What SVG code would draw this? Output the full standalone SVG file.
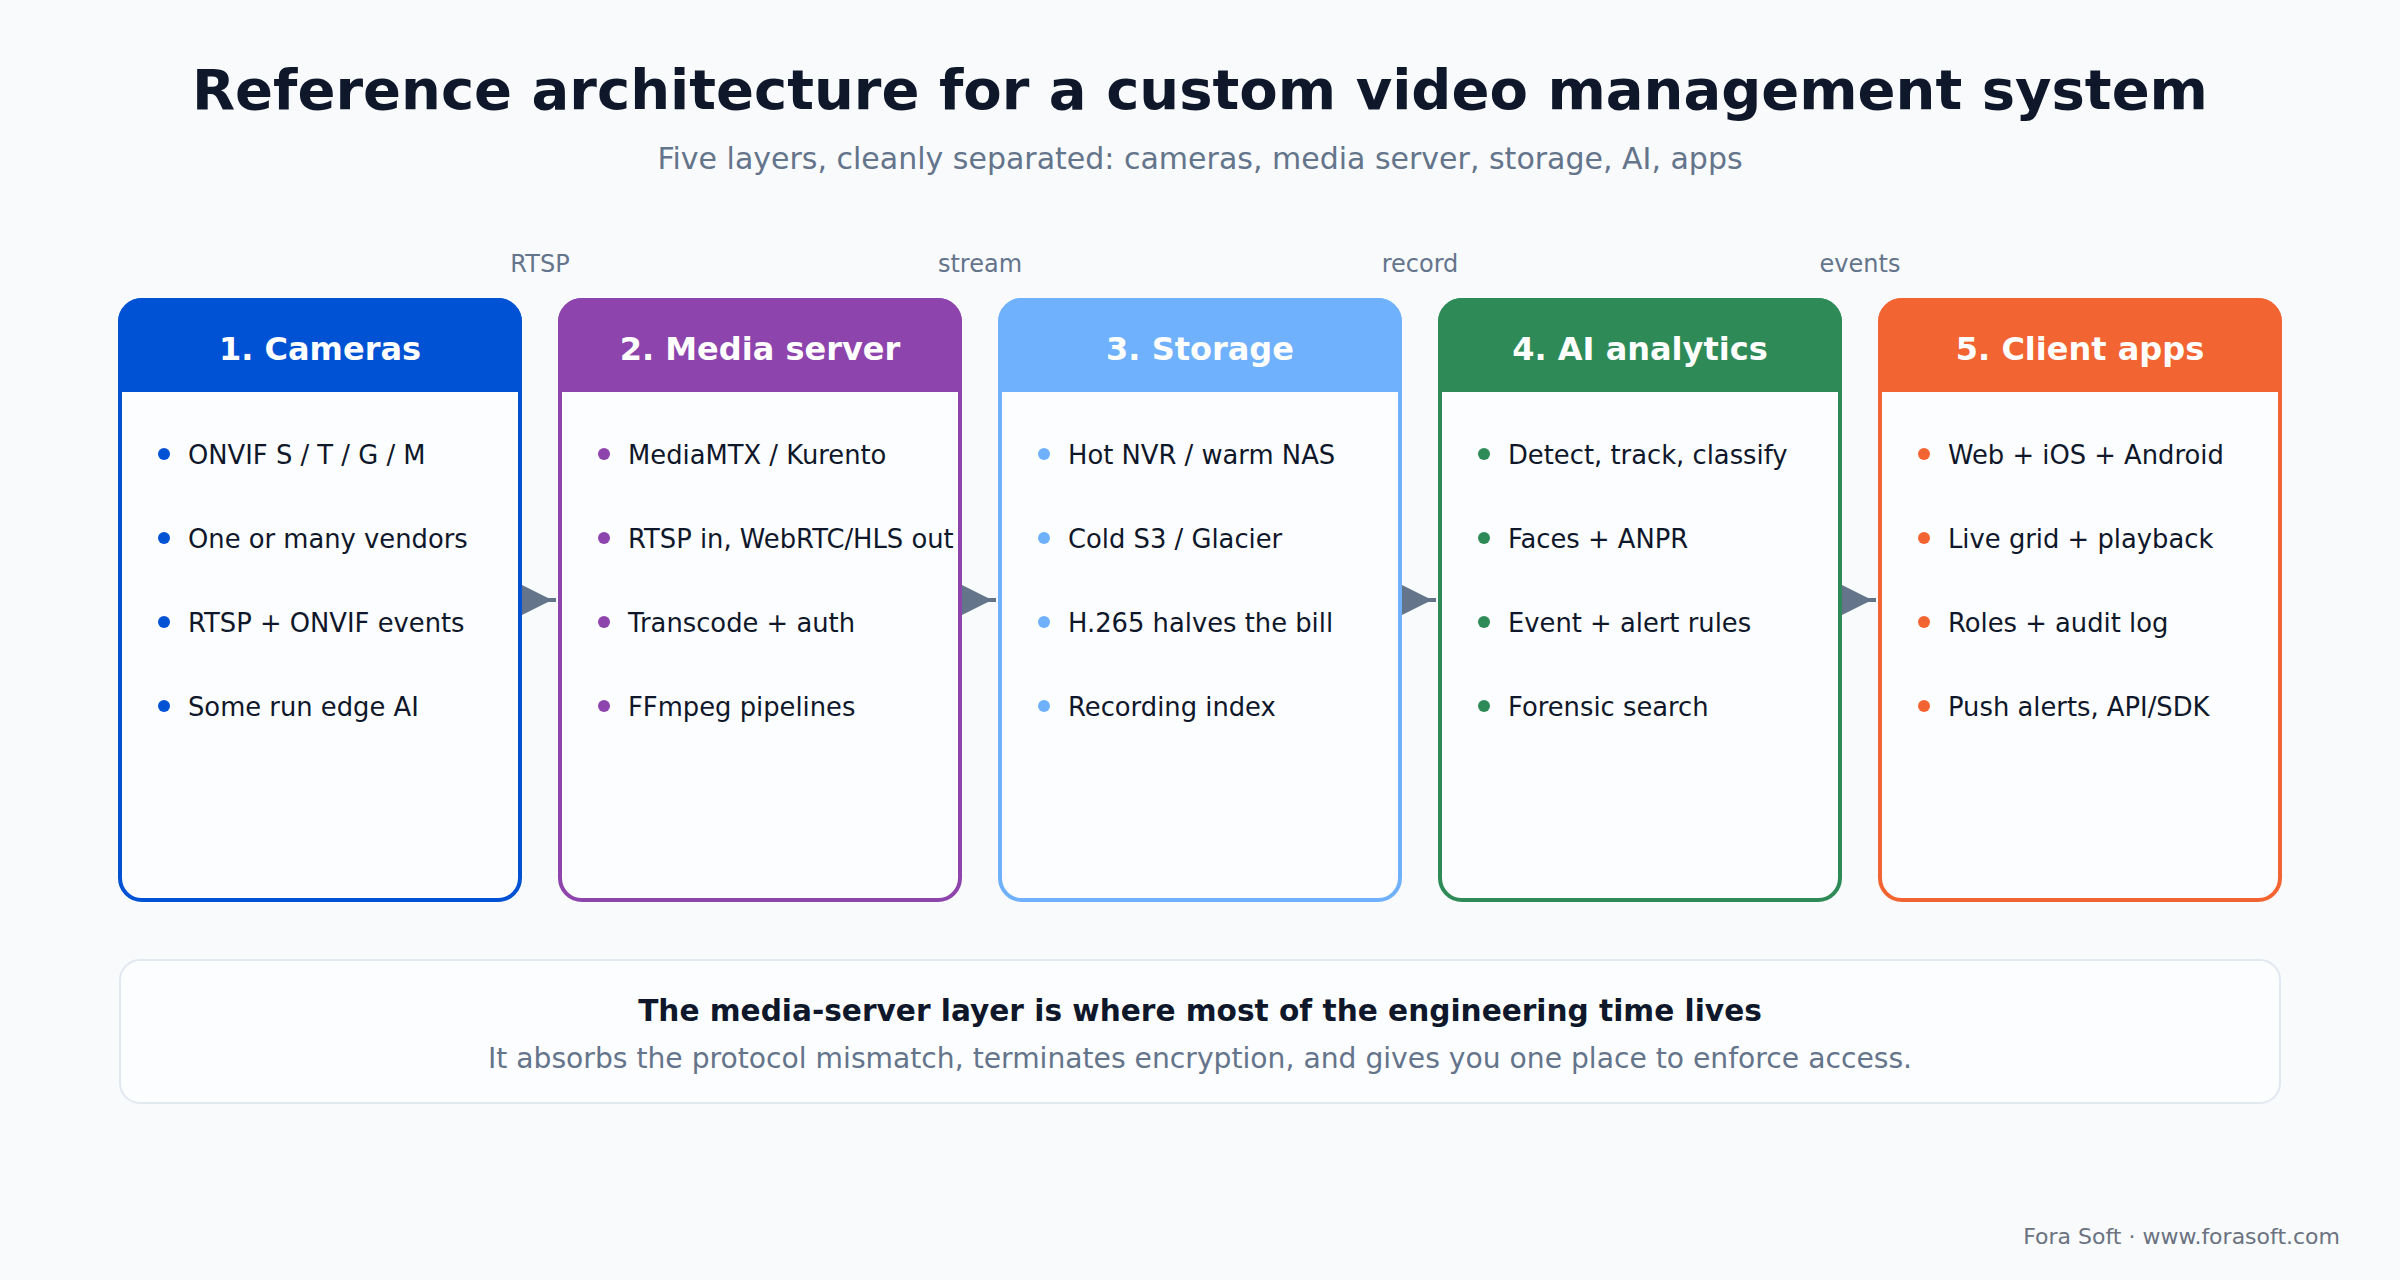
<svg xmlns="http://www.w3.org/2000/svg" width="2400" height="1280" viewBox="0 0 2400 1280">
  <style>
    text { font-family: "DejaVu Sans", "Liberation Sans", sans-serif; }
    .title { font-size: 56px; font-weight: bold; fill: #0f172a; text-anchor: middle; }
    .subtitle { font-size: 30px; fill: #64748b; text-anchor: middle; }
    .card { fill: #fcfdfe; stroke-width: 4; }
    .head { font-size: 32px; font-weight: bold; fill: #ffffff; text-anchor: middle; }
    .item { font-size: 25.8px; fill: #0f172a; }
    .elabel { font-size: 24px; fill: #64748b; text-anchor: middle; }
    .conn { stroke: #64748b; stroke-width: 4; fill: none; }
    .note { fill: #fcfdfe; stroke: #e2e8f0; stroke-width: 2; }
    .note-b { font-size: 29.6px; font-weight: bold; fill: #0f172a; text-anchor: middle; }
    .note-s { font-size: 28.2px; fill: #64748b; text-anchor: middle; }
    .footer { font-size: 22px; fill: #6b7280; text-anchor: end; }
  </style>
  <defs>
    <marker id="arrow" viewBox="0 0 30 30" markerWidth="30" markerHeight="30" refX="34" refY="15" markerUnits="userSpaceOnUse" orient="auto" overflow="visible">
      <path d="M0,0 L30,15 L0,30 Z" fill="#64748b"/>
    </marker>
  </defs>

  <rect x="0" y="0" width="2400" height="1280" fill="#f8fafc"/>

  <text class="title" x="1200" y="109">Reference architecture for a custom video management system</text>
  <text class="subtitle" x="1200" y="169">Five layers, cleanly separated: cameras, media server, storage, AI, apps</text>

  <g id="cameras">
    <rect class="card" x="120" y="300" width="400" height="600" rx="22" stroke="#0052d4"/>
    <path d="M118,392 V322 A24,24 0 0 1 142,298 H498 A24,24 0 0 1 522,322 V392 Z" fill="#0052d4"/>
    <text class="head" x="320" y="360">1. Cameras</text>
    <g fill="#0052d4">
      <circle cx="164" cy="454" r="6"/><circle cx="164" cy="538" r="6"/><circle cx="164" cy="622" r="6"/><circle cx="164" cy="706" r="6"/>
    </g>
    <text class="item" x="188" y="464">ONVIF S / T / G / M</text>
    <text class="item" x="188" y="548">One or many vendors</text>
    <text class="item" x="188" y="632">RTSP + ONVIF events</text>
    <text class="item" x="188" y="716">Some run edge AI</text>
  </g>

  <g id="media-server">
    <rect class="card" x="560" y="300" width="400" height="600" rx="22" stroke="#8e44ad"/>
    <path d="M558,392 V322 A24,24 0 0 1 582,298 H938 A24,24 0 0 1 962,322 V392 Z" fill="#8e44ad"/>
    <text class="head" x="760" y="360">2. Media server</text>
    <g fill="#8e44ad">
      <circle cx="604" cy="454" r="6"/><circle cx="604" cy="538" r="6"/><circle cx="604" cy="622" r="6"/><circle cx="604" cy="706" r="6"/>
    </g>
    <text class="item" x="628" y="464">MediaMTX / Kurento</text>
    <text class="item" x="628" y="548">RTSP in, WebRTC/HLS out</text>
    <text class="item" x="628" y="632">Transcode + auth</text>
    <text class="item" x="628" y="716">FFmpeg pipelines</text>
  </g>

  <g id="storage">
    <rect class="card" x="1000" y="300" width="400" height="600" rx="22" stroke="#6fb1fc"/>
    <path d="M998,392 V322 A24,24 0 0 1 1022,298 H1378 A24,24 0 0 1 1402,322 V392 Z" fill="#6fb1fc"/>
    <text class="head" x="1200" y="360">3. Storage</text>
    <g fill="#6fb1fc">
      <circle cx="1044" cy="454" r="6"/><circle cx="1044" cy="538" r="6"/><circle cx="1044" cy="622" r="6"/><circle cx="1044" cy="706" r="6"/>
    </g>
    <text class="item" x="1068" y="464">Hot NVR / warm NAS</text>
    <text class="item" x="1068" y="548">Cold S3 / Glacier</text>
    <text class="item" x="1068" y="632">H.265 halves the bill</text>
    <text class="item" x="1068" y="716">Recording index</text>
  </g>

  <g id="ai-analytics">
    <rect class="card" x="1440" y="300" width="400" height="600" rx="22" stroke="#2e8b57"/>
    <path d="M1438,392 V322 A24,24 0 0 1 1462,298 H1818 A24,24 0 0 1 1842,322 V392 Z" fill="#2e8b57"/>
    <text class="head" x="1640" y="360">4. AI analytics</text>
    <g fill="#2e8b57">
      <circle cx="1484" cy="454" r="6"/><circle cx="1484" cy="538" r="6"/><circle cx="1484" cy="622" r="6"/><circle cx="1484" cy="706" r="6"/>
    </g>
    <text class="item" x="1508" y="464">Detect, track, classify</text>
    <text class="item" x="1508" y="548">Faces + ANPR</text>
    <text class="item" x="1508" y="632">Event + alert rules</text>
    <text class="item" x="1508" y="716">Forensic search</text>
  </g>

  <g id="client-apps">
    <rect class="card" x="1880" y="300" width="400" height="600" rx="22" stroke="#f26532"/>
    <path d="M1878,392 V322 A24,24 0 0 1 1902,298 H2258 A24,24 0 0 1 2282,322 V392 Z" fill="#f26532"/>
    <text class="head" x="2080" y="360">5. Client apps</text>
    <g fill="#f26532">
      <circle cx="1924" cy="454" r="6"/><circle cx="1924" cy="538" r="6"/><circle cx="1924" cy="622" r="6"/><circle cx="1924" cy="706" r="6"/>
    </g>
    <text class="item" x="1948" y="464">Web + iOS + Android</text>
    <text class="item" x="1948" y="548">Live grid + playback</text>
    <text class="item" x="1948" y="632">Roles + audit log</text>
    <text class="item" x="1948" y="716">Push alerts, API/SDK</text>
  </g>

  <g id="connectors">
    <line class="conn" x1="522" y1="600" x2="556" y2="600" marker-end="url(#arrow)"/>
    <line class="conn" x1="962" y1="600" x2="996" y2="600" marker-end="url(#arrow)"/>
    <line class="conn" x1="1402" y1="600" x2="1436" y2="600" marker-end="url(#arrow)"/>
    <line class="conn" x1="1842" y1="600" x2="1876" y2="600" marker-end="url(#arrow)"/>
    <text class="elabel" x="540" y="272">RTSP</text>
    <text class="elabel" x="980" y="272">stream</text>
    <text class="elabel" x="1420" y="272">record</text>
    <text class="elabel" x="1860" y="272">events</text>
  </g>

  <g id="note">
    <rect class="note" x="120" y="960" width="2160" height="143" rx="20"/>
    <text class="note-b" x="1200" y="1021">The media-server layer is where most of the engineering time lives</text>
    <text class="note-s" x="1200" y="1068">It absorbs the protocol mismatch, terminates encryption, and gives you one place to enforce access.</text>
  </g>

  <text class="footer" x="2340" y="1244">Fora Soft · www.forasoft.com</text>
</svg>
